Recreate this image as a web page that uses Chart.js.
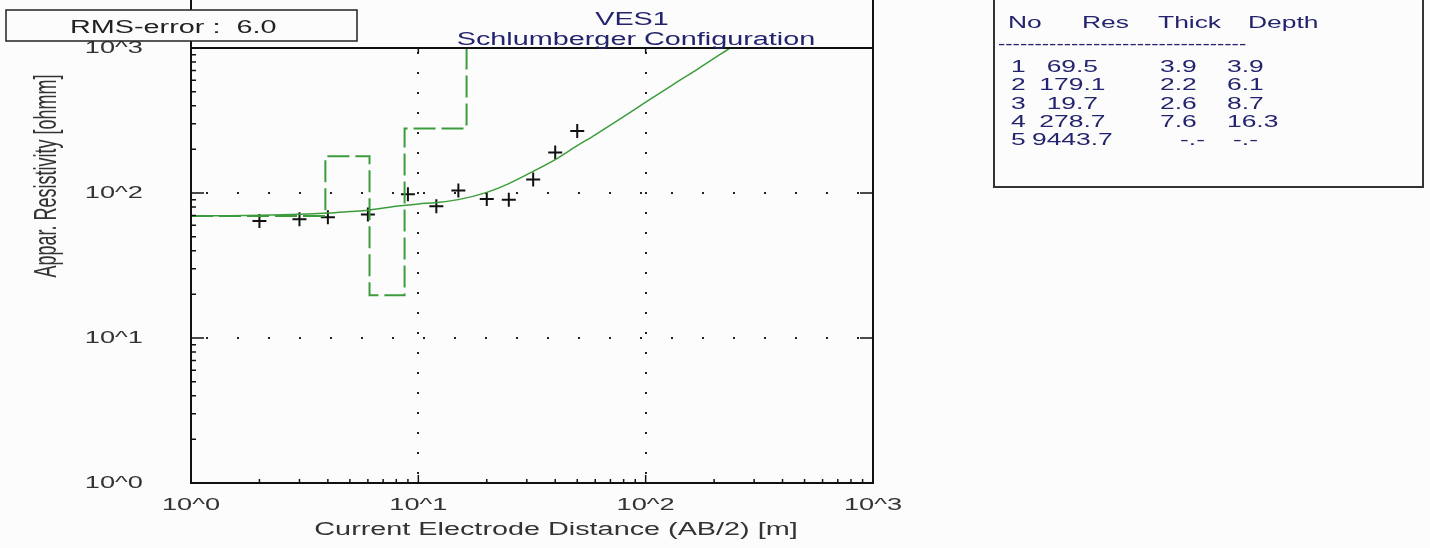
<!DOCTYPE html>
<html>
<head>
<meta charset="utf-8">
<script src="https://cdn.jsdelivr.net/npm/chart.js@4.4.0/dist/chart.umd.min.js"></script>
<style>
  html, body { margin: 0; padding: 0; background: #fcfcfc; }
  #wrap { width: 1430px; height: 548px; }
</style>
</head>
<body>
<div id="wrap"><canvas id="ves_chart" width="1430" height="548"></canvas></div>
<script>
// observed sounding (AB/2 in m, apparent resistivity in ohmm)
var obsAB2 = [2, 3, 4, 6, 9, 12, 15, 20, 25, 32, 40, 50];
var obsRho = [64, 66, 68, 71, 98, 81, 104, 91, 90, 124, 190, 268];

// fitted response curve
var fitAB2 = [1, 1.5, 2, 3, 4, 5, 6, 8, 10, 12, 15, 20, 25, 30, 40, 50, 60, 80, 100, 130, 170, 235];
var fitRho = [69.6, 69.8, 70.2, 71.3, 72.8, 74.5, 76, 81, 84, 86, 90, 101, 116, 134, 170, 212, 252, 336, 423, 551, 718, 1000];

// layer model
var layerRes = [69.5, 179.1, 19.7, 278.7, 9443.7];
var layerThick = [3.9, 2.2, 2.6, 7.6];
var layerDepth = [3.9, 6.1, 8.7, 16.3];

var xTickLabels = ['10^0', '10^1', '10^2', '10^3'];
var yTickLabels = ['10^0', '10^1', '10^2', '10^3'];
var rmsError = 6.0;

var green = '#3c9c3c';
var navy = '#23236e';

function pts(xs, ys) {
  var out = [];
  for (var i = 0; i < xs.length; i++) out.push({x: xs[i], y: ys[i]});
  return out;
}

// step line of the layer model
var modelPts = [{x: 1, y: layerRes[0]}];
for (var i = 0; i < layerDepth.length; i++) {
  modelPts.push({x: layerDepth[i], y: layerRes[i]});
  modelPts.push({x: layerDepth[i], y: layerRes[i + 1]});
}

function stretchText(ctx, txt, x, y, align, sx) {
  ctx.save();
  ctx.translate(x, y);
  ctx.scale(sx, 1);
  ctx.textAlign = align;
  ctx.textBaseline = 'middle';
  ctx.fillText(txt, 0, 0);
  ctx.restore();
}

function pad(s, n) {
  while (s.length < n) s = ' ' + s;
  return s;
}

var vesDecor = {
  id: 'vesDecor',
  beforeDraw: function (chart) {
    var ctx = chart.ctx;
    ctx.save();
    ctx.fillStyle = '#fcfcfc';
    ctx.fillRect(0, 0, chart.width, chart.height);
    ctx.restore();
  },
  beforeDatasetsDraw: function (chart) {
    var ctx = chart.ctx, a = chart.chartArea;
    var xs = chart.scales.x, ys = chart.scales.y;
    ctx.save();
    ctx.fillStyle = '#222';
    // dotted decade grid
    [10, 100].forEach(function (v) {
      var px = Math.round(xs.getPixelForValue(v));
      for (var y = a.top + 4; y < a.bottom - 4; y += 20) ctx.fillRect(px - 1, y, 2, 2);
      var py = Math.round(ys.getPixelForValue(v));
      for (var x = a.left + 15; x < a.right - 4; x += 31) ctx.fillRect(x, py - 1, 2, 2);
    });
    ctx.restore();
  },
  afterDatasetsDraw: function (chart) {
    var ctx = chart.ctx, a = chart.chartArea;
    var xs = chart.scales.x, ys = chart.scales.y;
    ctx.save();
    ctx.strokeStyle = '#111';
    ctx.lineWidth = 2;
    ctx.beginPath();
    ctx.moveTo(a.left, 0); ctx.lineTo(a.left, a.bottom);
    ctx.lineTo(a.right, a.bottom); ctx.lineTo(a.right, 0);
    ctx.moveTo(a.left, a.top); ctx.lineTo(a.right, a.top);
    ctx.stroke();

    // ticks
    ctx.lineWidth = 1.5;
    ctx.beginPath();
    for (var e = 0; e < 3; e++) {
      for (var m = 1; m < 10; m++) {
        var v = Math.pow(10, e) * m;
        var py = ys.getPixelForValue(v), px = xs.getPixelForValue(v);
        var major = (m === 1 && e > 0);
        ctx.moveTo(a.left, py); ctx.lineTo(a.left + (major ? 13 : 5), py);
        ctx.moveTo(px, a.bottom); ctx.lineTo(px, a.bottom - (major ? 8 : 4));
        if (major) {
          ctx.moveTo(a.right, py); ctx.lineTo(a.right - 13, py);
          ctx.moveTo(px, a.top); ctx.lineTo(px, a.top + 5);
        }
      }
    }
    ctx.stroke();

    // tick labels
    ctx.fillStyle = '#333';
    ctx.font = '17px "Liberation Sans", Arial, sans-serif';
    for (var k = 0; k < 4; k++) {
      var val = Math.pow(10, k);
      stretchText(ctx, yTickLabels[k], 143, ys.getPixelForValue(val), 'right', 1.6);
      stretchText(ctx, xTickLabels[k], xs.getPixelForValue(val), 505, 'center', 1.6);
    }

    // axis titles
    ctx.font = '18px "Liberation Sans", Arial, sans-serif';
    ctx.fillStyle = '#333';
    stretchText(ctx, 'Current Electrode Distance (AB/2) [m]', 556, 530, 'center', 1.6);
    ctx.save();
    ctx.translate(47, 176);
    ctx.rotate(-Math.PI / 2);
    ctx.scale(1, 1.75);
    ctx.textAlign = 'center';
    ctx.textBaseline = 'middle';
    ctx.fillText('Appar. Resistivity [ohmm]', 0, 0);
    ctx.restore();

    // titles
    ctx.fillStyle = navy;
    stretchText(ctx, 'VES1', 632, 20, 'center', 1.6);
    stretchText(ctx, 'Schlumberger Configuration', 636, 40, 'center', 1.6);

    // RMS box
    ctx.fillStyle = '#fcfcfc';
    ctx.fillRect(6, 10, 351, 31);
    ctx.strokeStyle = '#222';
    ctx.lineWidth = 1.5;
    ctx.strokeRect(6, 10, 351, 31);
    ctx.fillStyle = '#222';
    stretchText(ctx, 'RMS-error :  ' + rmsError.toFixed(1), 70, 28, 'left', 1.6);

    // layer table
    ctx.strokeStyle = '#333';
    ctx.lineWidth = 2;
    ctx.beginPath();
    ctx.moveTo(994, 0); ctx.lineTo(994, 187); ctx.lineTo(1423, 187); ctx.lineTo(1423, 0);
    ctx.stroke();
    ctx.fillStyle = navy;
    ctx.font = '16px "Liberation Sans", Arial, sans-serif';
    stretchText(ctx, 'No', 1008, 24, 'left', 1.65);
    stretchText(ctx, 'Res', 1082, 24, 'left', 1.65);
    stretchText(ctx, 'Thick', 1158, 24, 'left', 1.65);
    stretchText(ctx, 'Depth', 1248, 24, 'left', 1.65);
    stretchText(ctx, new Array(35).join('-'), 998, 45, 'left', 1.37);
    for (var r = 0; r < layerRes.length; r++) {
      var ry = 67.5 + r * 18.3;
      stretchText(ctx, String(r + 1), 1011, ry, 'left', 1.65);
      stretchText(ctx, pad(layerRes[r].toFixed(1), 6), 1032, ry, 'left', 1.65);
      var th = r < layerThick.length ? layerThick[r].toFixed(1) : '-.-';
      var dp = r < layerDepth.length ? layerDepth[r].toFixed(1) : '-.-';
      stretchText(ctx, th, th === '-.-' ? 1180 : 1160, ry, 'left', 1.65);
      stretchText(ctx, dp, dp === '-.-' ? 1233 : 1227, ry, 'left', 1.65);
    }
    ctx.restore();
  }
};

var ctx = document.getElementById('ves_chart').getContext('2d');
var chartInstance = new Chart(ctx, {
  type: 'scatter',
  data: {
    datasets: [
      {
        label: 'fit',
        data: pts(fitAB2, fitRho),
        showLine: true,
        borderColor: green,
        borderWidth: 1.5,
        pointRadius: 0,
        cubicInterpolationMode: 'monotone',
        clip: 0
      },
      {
        label: 'model',
        data: modelPts,
        showLine: true,
        borderColor: green,
        borderWidth: 2,
        borderDash: [22, 6],
        pointRadius: 0,
        clip: 0
      },
      {
        label: 'observed',
        data: pts(obsAB2, obsRho),
        pointStyle: 'cross',
        pointRadius: 7,
        borderColor: '#111',
        borderWidth: 2,
        backgroundColor: '#111'
      }
    ]
  },
  options: {
    responsive: false,
    animation: false,
    events: [],
    layout: { padding: { left: 191, right: 557, top: 48, bottom: 65 } },
    plugins: { legend: { display: false }, tooltip: { enabled: false } },
    scales: {
      x: { type: 'logarithmic', min: 1, max: 1000, display: false },
      y: { type: 'logarithmic', min: 1, max: 1000, display: false }
    }
  },
  plugins: [vesDecor]
});
</script>
</body>
</html>
